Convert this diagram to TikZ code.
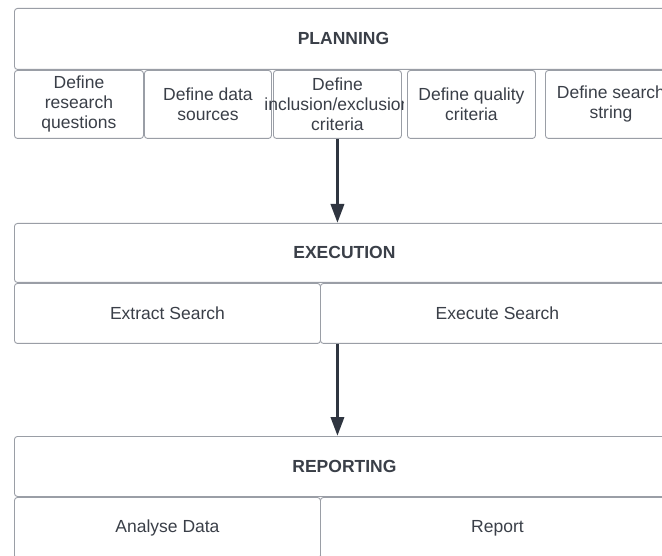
\documentclass[tikz,border=0pt]{standalone}
\usepackage{fontspec}
\setmainfont{Liberation Sans}
\usepackage{tikz}
\usetikzlibrary{calc,arrows.meta}
\definecolor{boxline}{HTML}{9A9EA6}
\definecolor{ink}{HTML}{3A3F48}
\definecolor{arrowink}{HTML}{2F3540}
\tikzstyle{phase}=[draw=boxline, line width=0.9pt, rounded corners=3pt, fill=white, text=ink, inner sep=0pt, anchor=north west, font=\fontsize{17.5}{20}\selectfont\bfseries]
\tikzstyle{task}=[draw=boxline, line width=0.9pt, rounded corners=3pt, fill=white, text=ink, inner sep=0pt, anchor=north west, align=center, font=\fontsize{17.5}{20}\selectfont]
\tikzstyle{flow}=[draw=arrowink, line width=3.5pt, -{Triangle[width=13pt,length=19pt]}]
\newcommand{\taskbox}[6]{
\node[task, minimum width=#4, minimum height=#5] (#1) at (#2,#3) {#6};
}

\begin{document}
\begin{tikzpicture}[x=1pt,y=-1pt]
\useasboundingbox (0,0) rectangle (662,556);
\clip (0,0) rectangle (662,556);
\fill[white] (0,0) rectangle (662,556);
% planning
\node[phase, minimum width=658, minimum height=61] (plan) at (14,8) {PLANNING};
\taskbox{rq}{14}{70}{129}{68}{Define\\research\\questions}
\taskbox{ds}{144}{70}{127}{68}{Define data\\sources}
\taskbox{incl}{273}{70}{128}{68}{}
\begin{scope}
\clip (0,0) rectangle (403,556);
\node[text=ink, align=center, font=\fontsize{17.5}{20}\selectfont] (incltext) at (incl.center) {Define\\inclusion/exclusion\\criteria};
\end{scope}
\taskbox{qc}{407}{70}{128}{68}{Define quality\\criteria}
\taskbox{ss}{545}{70}{131}{68}{Define search\\string}
% execution
\node[phase, minimum width=660, minimum height=59] (exec) at (14,223) {EXECUTION};
\taskbox{extract}{14}{283}{306}{60}{Extract Search}
\taskbox{execute}{320}{283}{354}{60}{Execute Search}
% reporting
\node[phase, minimum width=660, minimum height=60] (rep) at (14,436) {REPORTING};
\taskbox{analyse}{14}{497}{306}{61}{Analyse Data}
\taskbox{report}{320}{497}{354}{61}{Report}
\draw[flow] (incl.south) -- (incl.south |- exec.north);
\draw[flow] (incl.south |- extract.south) -- (incl.south |- rep.north);
\end{tikzpicture}
\end{document}
